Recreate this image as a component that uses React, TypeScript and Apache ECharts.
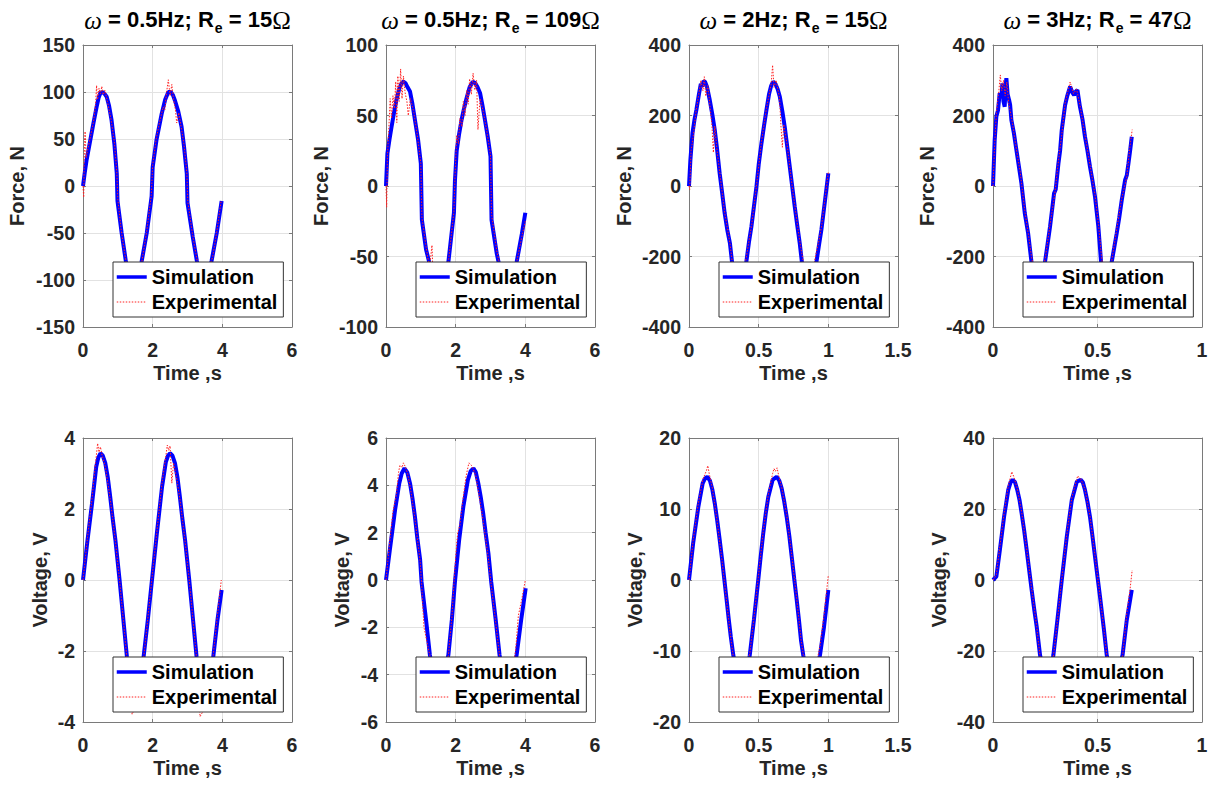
import React, { useEffect, useRef } from 'react';
import * as echarts from 'echarts';

// ---------- categories / ticks ----------
const TITLE_FREQ = ['0.5', '0.5', '2', '3'];
const TITLE_RES = ['15', '109', '15', '47'];
const X_MAX = [6, 6, 1.5, 1];
const X_STEP = [2, 2, 0.5, 0.5];
const FORCE_LIMIT = [150, 100, 400, 400];
const FORCE_STEP = [50, 50, 200, 200];
const VOLT_LIMIT = [4, 6, 20, 40];
const VOLT_STEP = [2, 2, 10, 20];

// ---------- data: [time s, value] ----------
const forceSim05_15 = [[0,0],[0.05,14],[0.1,27],[0.2,47],[0.3,67],[0.39,84],[0.45,94],[0.5,99],[0.56,100],[0.62,98],[0.68,95],[0.75,85],[0.82,70],[0.9,45],[0.97,13],[0.99,-16],[1.11,-50],[1.23,-80],[1.35,-95],[1.5,-100],[1.62,-92],[1.68,-81],[1.83,-50],[1.97,-11],[2.0,20],[2.11,49],[2.26,77],[2.36,92],[2.45,100],[2.52,100],[2.58,97],[2.64,91],[2.73,80],[2.83,63],[2.9,42],[2.98,13],[3.0,-18],[3.15,-54],[3.27,-80],[3.38,-95],[3.5,-100],[3.6,-94],[3.69,-80],[3.84,-50],[3.98,-16]];
const forceExp05_15 = [[0,0],[0.02,-12],[0.04,40],[0.06,58],[0.09,30],[0.14,40],[0.2,50],[0.3,68],[0.36,86],[0.39,107],[0.42,92],[0.46,104],[0.5,98],[0.54,106],[0.58,97],[0.63,102],[0.7,90],[0.8,72],[0.9,47],[0.97,15],[1.0,-14],[1.1,-48],[1.25,-84],[1.35,-96],[1.5,-102],[1.65,-90],[1.7,-78],[1.83,-48],[1.96,-10],[2.0,22],[2.1,50],[2.2,68],[2.3,84],[2.35,81],[2.4,100],[2.45,113],[2.5,96],[2.55,108],[2.6,92],[2.65,82],[2.69,67],[2.75,78],[2.83,60],[2.9,44],[2.98,15],[3.01,-17],[3.15,-53],[3.3,-84],[3.5,-102],[3.68,-80],[3.72,-76],[3.84,-49],[3.97,-15]];

const forceSim05_109 = [[0,0],[0.04,23],[0.1,33],[0.16,42],[0.23,52],[0.3,61],[0.38,69],[0.45,73],[0.5,74],[0.56,73],[0.62,70],[0.69,67],[0.76,58],[0.83,47],[0.92,33],[1.0,16],[1.03,-24],[1.15,-45],[1.24,-54],[1.35,-66],[1.5,-74],[1.65,-66],[1.79,-54],[1.95,-19],[1.98,4],[2.03,25],[2.1,37],[2.17,47],[2.25,56],[2.32,63],[2.4,70],[2.49,74],[2.56,73],[2.63,70],[2.7,66],[2.77,57],[2.84,47],[2.92,35],[3.0,21],[3.03,-24],[3.18,-48],[3.3,-62],[3.5,-74],[3.65,-64],[3.75,-54],[3.9,-34],[4.0,-19]];
const forceExp05_109 = [[0,0],[0.02,-15],[0.04,20],[0.08,40],[0.12,62],[0.16,48],[0.2,64],[0.24,55],[0.28,74],[0.31,45],[0.34,78],[0.38,60],[0.42,83],[0.46,62],[0.5,78],[0.55,66],[0.6,60],[0.64,50],[0.7,62],[0.8,52],[0.9,36],[1.0,16],[1.03,-22],[1.15,-43],[1.25,-58],[1.32,-42],[1.36,-70],[1.5,-76],[1.65,-68],[1.8,-52],[1.95,-18],[1.98,6],[2.03,36],[2.08,30],[2.12,48],[2.18,42],[2.22,60],[2.27,50],[2.32,68],[2.36,58],[2.4,76],[2.45,65],[2.5,80],[2.55,68],[2.6,75],[2.64,40],[2.7,62],[2.8,52],[2.9,38],[3.0,22],[3.03,-20],[3.18,-46],[3.3,-60],[3.5,-76],[3.7,-60],[3.8,-48],[3.9,-36],[4.0,-25]];

const forceSim2_15 = [[0,0],[0.01,74],[0.025,150],[0.04,190],[0.053,216],[0.072,262],[0.085,290],[0.095,282],[0.105,298],[0.115,296],[0.13,280],[0.149,244],[0.167,204],[0.185,159],[0.2,110],[0.22,36],[0.238,-20],[0.256,-77],[0.275,-125],[0.294,-163],[0.31,-220],[0.36,-295],[0.41,-220],[0.43,-160],[0.448,-115],[0.466,-58],[0.484,-2],[0.5,60],[0.52,121],[0.54,175],[0.556,216],[0.575,262],[0.59,285],[0.604,296],[0.62,290],[0.636,275],[0.652,253],[0.67,212],[0.687,168],[0.705,112],[0.723,55],[0.741,-2],[0.759,-59],[0.777,-112],[0.795,-163],[0.81,-215],[0.86,-295],[0.915,-215],[0.932,-170],[0.95,-125],[0.975,-45],[1.0,36]];
const forceExp2_15 = [[0,0],[0.005,-10],[0.015,100],[0.03,140],[0.05,210],[0.07,260],[0.085,300],[0.1,270],[0.11,310],[0.12,255],[0.135,285],[0.15,230],[0.165,170],[0.175,95],[0.185,170],[0.2,105],[0.22,40],[0.256,-75],[0.295,-165],[0.31,-215],[0.36,-300],[0.41,-205],[0.45,-110],[0.484,0],[0.52,125],[0.556,220],[0.59,290],[0.6,343],[0.61,280],[0.625,300],[0.65,250],[0.66,170],[0.67,110],[0.68,175],[0.705,115],[0.74,0],[0.78,-115],[0.8,-170],[0.86,-300],[0.91,-195],[0.93,-160],[0.95,-118],[0.975,-40],[1.0,40]];

const forceSim3_47 = [[0,0],[0.008,130],[0.016,197],[0.024,215],[0.032,263],[0.04,250],[0.045,291],[0.05,240],[0.056,225],[0.06,280],[0.064,306],[0.07,260],[0.077,244],[0.082,230],[0.088,187],[0.1,150],[0.112,102],[0.124,55],[0.136,8],[0.152,-77],[0.168,-134],[0.184,-215],[0.215,-290],[0.249,-215],[0.261,-165],[0.273,-115],[0.292,-21],[0.3,-10],[0.313,64],[0.321,100],[0.329,159],[0.345,230],[0.355,255],[0.369,282],[0.38,265],[0.388,258],[0.396,268],[0.404,272],[0.416,225],[0.428,190],[0.44,140],[0.452,100],[0.464,55],[0.476,15],[0.488,-30],[0.504,-115],[0.517,-215],[0.545,-290],[0.568,-215],[0.58,-175],[0.592,-134],[0.604,-90],[0.616,-40],[0.632,17],[0.64,30],[0.648,64],[0.656,100],[0.664,140]];
const forceExp3_47 = [[0,0],[0.008,120],[0.016,205],[0.028,270],[0.035,315],[0.042,270],[0.05,300],[0.058,255],[0.066,295],[0.075,235],[0.09,190],[0.112,105],[0.13,40],[0.152,-70],[0.17,-140],[0.184,-200],[0.215,-295],[0.25,-205],[0.273,-110],[0.295,-25],[0.313,70],[0.33,150],[0.345,235],[0.369,295],[0.385,262],[0.4,275],[0.416,230],[0.44,145],[0.464,60],[0.488,-25],[0.505,-110],[0.52,-205],[0.545,-295],[0.57,-205],[0.59,-130],[0.616,-35],[0.64,25],[0.655,110],[0.666,160]];

const voltSim05_15 = [[0,0],[0.13,1.13],[0.26,2.16],[0.38,3.19],[0.44,3.45],[0.5,3.57],[0.57,3.5],[0.64,3.29],[0.71,2.9],[0.78,2.35],[0.85,1.75],[0.93,1.13],[1.05,0],[1.16,-1.13],[1.26,-2.16],[1.38,-3.2],[1.5,-3.57],[1.62,-3.2],[1.74,-2.16],[1.86,-1.13],[1.98,0],[2.12,1.31],[2.27,2.63],[2.38,3.33],[2.44,3.5],[2.5,3.57],[2.57,3.5],[2.64,3.29],[2.71,2.9],[2.78,2.35],[2.85,1.75],[2.93,1.13],[3.05,0],[3.16,-1.13],[3.26,-2.16],[3.38,-3.2],[3.5,-3.57],[3.62,-3.2],[3.74,-2.16],[3.86,-1.13],[3.98,-0.28]];
const voltExp05_15 = [[0,0],[0.13,1.2],[0.26,2.3],[0.36,3.3],[0.42,3.85],[0.46,3.6],[0.5,3.75],[0.55,3.5],[0.64,3.2],[0.78,2.3],[0.93,1.1],[1.05,0],[1.16,-1.15],[1.26,-2.2],[1.41,-3.78],[1.5,-3.6],[1.62,-3.25],[1.74,-2.2],[1.86,-1.1],[1.98,0.05],[2.12,1.35],[2.27,2.75],[2.38,3.5],[2.42,3.8],[2.46,3.65],[2.5,3.78],[2.55,2.73],[2.6,3.3],[2.7,2.8],[2.78,2.3],[2.93,1.1],[3.05,0],[3.16,-1.15],[3.26,-2.2],[3.36,-3.85],[3.5,-3.6],[3.62,-3.2],[3.74,-2.1],[3.86,-1.0],[3.97,0]];

const voltSim05_109 = [[0,0],[0.11,1.27],[0.26,2.96],[0.38,4.08],[0.45,4.5],[0.53,4.72],[0.61,4.55],[0.69,4.08],[0.76,3.45],[0.83,2.68],[0.9,1.75],[0.98,0.85],[1.02,-0.07],[1.15,-1.69],[1.26,-3.17],[1.38,-4.3],[1.5,-4.72],[1.62,-4.3],[1.79,-3.17],[1.89,-1.69],[1.98,-0.07],[2.1,1.69],[2.22,3.1],[2.35,4.22],[2.43,4.6],[2.51,4.72],[2.58,4.55],[2.65,4.08],[2.72,3.5],[2.79,2.82],[2.86,2.0],[2.94,1.13],[3.02,-0.07],[3.15,-1.69],[3.26,-3.17],[3.38,-4.3],[3.5,-4.72],[3.62,-4.3],[3.75,-3.17],[3.88,-1.69],[4.01,-0.35]];
const voltExp05_109 = [[0,0],[0.1,1.5],[0.2,2.9],[0.3,3.6],[0.36,4.55],[0.4,4.85],[0.46,4.75],[0.5,4.95],[0.55,4.8],[0.62,4.5],[0.7,3.9],[0.83,2.6],[0.98,0.8],[1.02,-0.1],[1.09,-2.0],[1.26,-3.2],[1.5,-4.8],[1.79,-3.2],[1.89,-1.6],[1.97,0.3],[2.03,1.55],[2.06,2.0],[2.12,2.3],[2.2,3.3],[2.3,4.4],[2.38,4.95],[2.45,4.85],[2.5,4.7],[2.58,4.4],[2.66,3.7],[2.79,2.5],[2.94,0.9],[3.02,-0.2],[3.15,-1.8],[3.26,-3.2],[3.5,-4.8],[3.72,-3.0],[3.8,-1.5],[3.9,-0.8],[4.0,0]];

const voltSim2_15 = [[0,0],[0.03,5.2],[0.067,10.3],[0.098,13.6],[0.115,14.3],[0.131,14.55],[0.15,14.0],[0.168,12.7],[0.185,10.8],[0.202,8.45],[0.22,5.7],[0.238,2.8],[0.254,0],[0.27,-2.8],[0.285,-5.5],[0.3,-8],[0.318,-10.6],[0.35,-13.8],[0.38,-14.55],[0.41,-13.8],[0.436,-10.6],[0.451,-8.1],[0.466,-5.6],[0.497,0],[0.515,3.4],[0.533,6.6],[0.551,9.4],[0.569,11.7],[0.6,14.1],[0.629,14.55],[0.648,14.0],[0.665,12.9],[0.683,11.1],[0.701,8.9],[0.72,6.2],[0.737,3.3],[0.755,0.2],[0.773,-2.8],[0.79,-5.8],[0.804,-8.5],[0.82,-10.6],[0.85,-13.8],[0.88,-14.55],[0.91,-13.8],[0.94,-10.6],[0.969,-6.6],[1.0,-1.4]];
const voltExp2_15 = [[0,0],[0.03,5.6],[0.067,10.8],[0.1,14.2],[0.125,15.4],[0.135,16.1],[0.145,15.0],[0.168,12.9],[0.202,8.3],[0.238,2.6],[0.27,-3.0],[0.3,-8.2],[0.318,-10.8],[0.38,-14.8],[0.436,-10.4],[0.466,-5.4],[0.497,0.3],[0.533,6.9],[0.569,12.0],[0.6,15.0],[0.61,15.7],[0.62,15.3],[0.632,15.8],[0.645,14.6],[0.665,13.1],[0.701,9.2],[0.737,3.5],[0.773,-2.6],[0.804,-8.4],[0.82,-10.5],[0.88,-14.8],[0.94,-9.4],[0.969,-5.0],[1.0,0.7]];

const voltSim3_47 = [[0,0],[0.016,0.94],[0.033,8.5],[0.053,17.8],[0.073,25.4],[0.084,27.5],[0.094,28.2],[0.105,27.6],[0.116,25.4],[0.127,22.5],[0.137,18.8],[0.149,14],[0.161,8.5],[0.173,2.8],[0.185,-2.8],[0.197,-8.2],[0.209,-13.1],[0.225,-21.1],[0.245,-27],[0.26,-28.2],[0.275,-26.5],[0.289,-21.1],[0.308,-11.3],[0.329,0],[0.353,12.2],[0.377,22.5],[0.401,27.7],[0.42,28.2],[0.43,27.5],[0.44,25.4],[0.452,22],[0.464,17.8],[0.476,12.3],[0.488,6.6],[0.5,0.9],[0.512,-4.7],[0.531,-14.1],[0.544,-21.1],[0.565,-27],[0.58,-28.2],[0.595,-26.5],[0.62,-21.1],[0.64,-11.3],[0.664,-2.8]];
const voltExp3_47 = [[0,0],[0.016,1.5],[0.033,9.5],[0.053,18.8],[0.073,26.5],[0.09,30.5],[0.1,29.0],[0.116,25.8],[0.137,19.2],[0.161,8.8],[0.185,-2.5],[0.209,-13.0],[0.225,-21.5],[0.26,-28.8],[0.289,-21.6],[0.308,-11.5],[0.329,0.3],[0.353,12.8],[0.377,23.2],[0.405,29.3],[0.42,28.5],[0.44,25.6],[0.464,18.0],[0.488,6.8],[0.512,-4.5],[0.531,-14],[0.544,-21],[0.58,-28.8],[0.62,-21.5],[0.64,-9.5],[0.655,-3],[0.666,2.8]];

const SIM = [forceSim05_15, forceSim05_109, forceSim2_15, forceSim3_47, voltSim05_15, voltSim05_109, voltSim2_15, voltSim3_47];
const EXP = [forceExp05_15, forceExp05_109, forceExp2_15, forceExp3_47, voltExp05_15, voltExp05_109, voltExp2_15, voltExp3_47];

// ---------- layout / style ----------
const GRID_LEFT = [83, 386, 689, 993];
const GRID_WIDTH = 209;
const ROW_TOP = [45, 438];
const ROW_HEIGHT = [282, 284];
const Y_NAME_GAP = [[56, 55, 55, 56], [33, 34, 44, 44]];
const FONT = 'Liberation Sans';
const AX = '#7a7a7a';
const GRIDC = '#e2e2e2';
const TXT = '#262626';

const titleRich = {
  w: { fontFamily: 'Liberation Serif', fontStyle: 'italic', fontSize: 25, fontWeight: 'normal', lineHeight: 22, verticalAlign: 'top', color: '#000' },
  b: { fontFamily: FONT, fontWeight: 'bold', fontSize: 22, lineHeight: 22, verticalAlign: 'top', color: '#000' },
  s: { fontFamily: FONT, fontWeight: 'bold', fontSize: 14, lineHeight: 12, padding: [13, 0, 0, 1], verticalAlign: 'top', color: '#000' },
  o: { fontFamily: 'Liberation Serif', fontWeight: 'normal', fontSize: 25, lineHeight: 22, verticalAlign: 'top', color: '#000' },
};

function buildOption() {
  const grid: any[] = [];
  const xAxis: any[] = [];
  const yAxis: any[] = [];
  const series: any[] = [];
  const legend: any[] = [];
  const labelStyle = { color: TXT, fontFamily: FONT, fontWeight: 'bold', fontSize: 19.5 };
  const nameStyle = { color: TXT, fontFamily: FONT, fontWeight: 'bold', fontSize: 20 };
  const axisLine = { show: true, onZero: false, lineStyle: { color: AX, width: 1 } };
  const axisTick = { show: true, inside: true, length: 3, lineStyle: { color: AX, width: 1 } };

  for (let p = 0; p < 8; p++) {
    const row = p >> 2;
    const col = p & 3;
    const yLim = row === 0 ? FORCE_LIMIT[col] : VOLT_LIMIT[col];
    const yStep = row === 0 ? FORCE_STEP[col] : VOLT_STEP[col];
    grid.push({
      left: GRID_LEFT[col], top: ROW_TOP[row], width: GRID_WIDTH, height: ROW_HEIGHT[row],
      containLabel: false, outerBoundsMode: 'none', show: false,
    });
    xAxis.push({
      type: 'value', gridIndex: p, position: 'bottom', min: 0, max: X_MAX[col], interval: X_STEP[col],
      axisLine, axisTick,
      axisLabel: { ...labelStyle, margin: 13, showMinLabel: true, showMaxLabel: true },
      splitLine: { show: true, lineStyle: { color: GRIDC, width: 1 } },
      name: 'Time ,s', nameLocation: 'middle', nameGap: 36, nameTextStyle: nameStyle, nameMoveOverlap: false,
    });
    xAxis.push({
      type: 'value', gridIndex: p, position: 'top', min: 0, max: X_MAX[col], interval: X_STEP[col],
      axisLine, axisTick, axisLabel: { show: false }, splitLine: { show: false },
      name: row === 0 ? `{w|ω}{b| = ${TITLE_FREQ[col]}Hz; R}{s|e}{b| = ${TITLE_RES[col]}}{o|Ω}` : '',
      nameLocation: 'middle', nameGap: 15, nameMoveOverlap: false,
      nameTextStyle: { rich: titleRich },
    });
    yAxis.push({
      type: 'value', gridIndex: p, position: 'left', min: -yLim, max: yLim, interval: yStep,
      axisLine, axisTick,
      axisLabel: { ...labelStyle, margin: 8, showMinLabel: true, showMaxLabel: true },
      splitLine: { show: true, lineStyle: { color: GRIDC, width: 1 } },
      name: row === 0 ? 'Force, N' : 'Voltage, V', nameLocation: 'middle', nameRotate: 90,
      nameGap: Y_NAME_GAP[row][col], nameTextStyle: nameStyle, nameMoveOverlap: false,
    });
    yAxis.push({
      type: 'value', gridIndex: p, position: 'right', min: -yLim, max: yLim, interval: yStep,
      axisLine, axisTick, axisLabel: { show: false }, splitLine: { show: false },
    });
    series.push({
      type: 'line', name: 'Simulation', xAxisIndex: 2 * p, yAxisIndex: 2 * p, data: SIM[p],
      showSymbol: false, symbol: 'none', clip: true, z: 2,
      lineStyle: { color: '#0000ff', width: 4 }, itemStyle: { color: '#0000ff' },
    });
    series.push({
      type: 'line', name: 'Experimental', xAxisIndex: 2 * p, yAxisIndex: 2 * p, data: EXP[p],
      showSymbol: false, symbol: 'none', clip: true, z: 3,
      lineStyle: { color: '#ff2020', width: 1, type: [1.5, 1.5] }, itemStyle: { color: '#ff2020' },
    });
    legend.push({
      left: GRID_LEFT[col] + 30, top: ROW_TOP[row] + ROW_HEIGHT[row] - 65,
      orient: 'vertical', padding: [5, 6, 5, 2], itemGap: 5, itemWidth: 30, itemHeight: 14,
      backgroundColor: '#ffffff', borderColor: '#333333', borderWidth: 1, borderRadius: 0,
      selectedMode: false, z: 10,
      textStyle: { color: '#000', fontFamily: FONT, fontWeight: 'bold', fontSize: 20, lineHeight: 20 },
      data: [
        { name: 'Simulation', lineStyle: { width: 3.5, color: '#0000ff' }, itemStyle: { opacity: 0, color: 'rgba(0,0,0,0)', borderWidth: 0 } },
        { name: 'Experimental', lineStyle: { width: 1, color: '#ff2020', type: [1.5, 1.5] }, itemStyle: { opacity: 0, color: 'rgba(0,0,0,0)', borderWidth: 0 } },
      ],
    });
  }

  return {
    animation: false,
    backgroundColor: '#ffffff',
    textStyle: { fontFamily: FONT },
    grid, xAxis, yAxis, series, legend,
    tooltip: { show: false },
  };
}

export default function App() {
  const ref = useRef<HTMLDivElement>(null);
  useEffect(() => {
    if (!ref.current) return;
    document.body.style.margin = '0';
    const chart = echarts.init(ref.current, null, { renderer: 'svg' });
    chart.setOption(buildOption() as any);
    return () => chart.dispose();
  }, []);
  return <div ref={ref} style={{ width: 1214, height: 785, background: '#fff' }} />;
}
